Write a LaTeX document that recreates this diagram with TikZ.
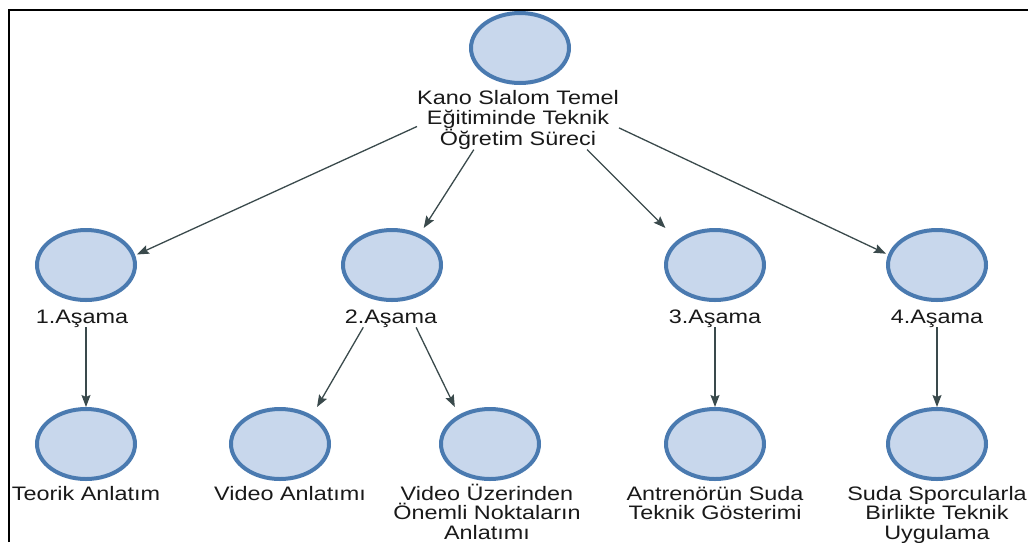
\documentclass[tikz,border=0pt]{standalone}
\usepackage{fontspec}
\setmainfont[FakeStretch=1.2]{Liberation Sans}
\usetikzlibrary{arrows.meta,fit,shapes.geometric}
\definecolor{ringblue}{RGB}{74,122,176}
\definecolor{discfill}{RGB}{200,215,236}
\definecolor{linkgray}{RGB}{58,74,76}
\definecolor{inkgray}{RGB}{25,25,25}
\begin{document}
\begin{tikzpicture}[x=1pt,y=-1pt,
  disc/.style={ellipse, draw=ringblue, fill=discfill, line width=4pt,
    minimum width=98pt, minimum height=70pt, inner sep=0pt},
  % captions are placed by the baseline of their last line
  caption/.style={font=\fontsize{19.5}{19.7}\selectfont, text=inkgray,
    align=center, inner sep=0pt, anchor=base},
  group/.style={rectangle, inner sep=0pt, outer sep=0pt},
  link/.style={draw=linkgray, line width=1.3pt,
    -{Stealth[length=12pt,width=9pt,inset=2pt]}},
  frame/.style={draw=black, line width=1.3pt}]
\useasboundingbox (0,0) rectangle (1028,542);
\draw[frame] (9,542) -- (9,10) -- (1028,10);

% root
\node[disc] (d0) at (520,48) {};
\node[caption] (c0) at (518,145.4) {Kano Slalom Temel\\Eğitiminde Teknik\\Öğretim Süreci};
\node[group, fit=(d0)(c0)] (g0) {};

% stages
\node[disc] (d1) at (86,265) {};
\node[caption] (c1) at (82,323) {1.Aşama};
\node[group, fit=(d1)(c1)] (g1) {};

\node[disc] (d2) at (392,265) {};
\node[caption] (c2) at (391,323) {2.Aşama};
\node[group, fit=(d2)(c2)] (g2) {};

\node[disc] (d3) at (715,265) {};
\node[caption] (c3) at (715,323) {3.Aşama};
\node[group, fit=(d3)(c3)] (g3) {};

\node[disc] (d4) at (937,265) {};
\node[caption] (c4) at (937,323) {4.Aşama};
\node[group, fit=(d4)(c4)] (g4) {};

% steps
\node[disc] (d5) at (86,444) {};
\node[caption] (c5) at (86,500) {Teorik Anlatım};
\node[group, fit=(d5)(c5)] (g5) {};

\node[disc] (d6) at (280,444) {};
\node[caption] (c6) at (290,500) {Video Anlatımı};
\node[group, fit=(d6)(c6)] (g6) {};

\node[disc] (d7) at (490,444) {};
\node[caption] (c7) at (487,539.4) {Video Üzerinden\\Önemli Noktaların\\Anlatımı};
\node[group, fit=(d7)(c7)] (g7) {};

\node[disc] (d8) at (715,444) {};
\node[caption] (c8) at (715,519.7) {Antrenörün Suda\\Teknik Gösterimi};
\node[group, fit=(d8)(c8)] (g8) {};

\node[disc] (d9) at (937,444) {};
\node[caption] (c9) at (937,539.4) {Suda Sporcularla\\Birlikte Teknik\\Uygulama};
\node[group, fit=(d9)(c9)] (g9) {};

% connectors
\draw[link] (g0) -- (g1);
\draw[link] (g0) -- (g2);
\draw[link] (g0) -- (g3);
\draw[link] (g0) -- (g4);
\draw[link] (g1) -- (g5);
\draw[link] (g2) -- (g6);
\draw[link] (g2) -- (g7);
\draw[link] (g3) -- (g8);
\draw[link] (g4) -- (g9);
\end{tikzpicture}
\end{document}
